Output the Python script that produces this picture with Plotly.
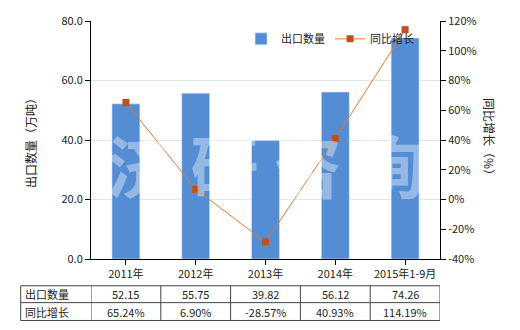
import plotly.graph_objects as go

categories = ["2011年", "2012年", "2013年", "2014年", "2015年1-9月"]
export_qty = [52.15, 55.75, 39.82, 56.12, 74.26]
yoy_growth = [65.24, 6.90, -28.57, 40.93, 114.19]
qty_labels = ["52.15", "55.75", "39.82", "56.12", "74.26"]
growth_labels = ["65.24%", "6.90%", "-28.57%", "40.93%", "114.19%"]
row_names = ["出口数量", "同比增长"]
y2_tickvals = [-40, -20, 0, 20, 40, 60, 80, 100, 120]
y2_ticktext = ["-40%", "-20%", "0%", "20%", "40%", "60%", "80%", "100%", "120%"]
watermark = "济 研 咨 询"

FONT = "Noto Sans CJK SC, Microsoft YaHei, sans-serif"
TXT = "#222222"

fig = go.Figure()
fig.add_trace(go.Bar(
    x=categories, y=export_qty, name="出口数量",
    marker=dict(color="#548dd4"), width=0.4, yaxis="y"))
fig.add_trace(go.Scatter(
    x=categories, y=yoy_growth, name="同比增长", yaxis="y2",
    mode="lines+markers",
    line=dict(color="#e07a30", width=1),
    marker=dict(color="#c0501a", size=7, symbol="square")))

fig.update_layout(
    width=520, height=330,
    margin=dict(l=91, r=80, t=19, b=71),
    paper_bgcolor="white", plot_bgcolor="white",
    font=dict(family=FONT, size=11, color=TXT),
    showlegend=True,
    legend=dict(orientation="h", x=0.43, y=0.925, xanchor="left", yanchor="middle",
                font=dict(size=11, color=TXT), bgcolor="rgba(0,0,0,0)",
                itemwidth=30, traceorder="normal"),
    xaxis=dict(type="category", range=[-0.5, 4.5], showline=True, linecolor="black",
               ticks="outside", ticklen=5, tickcolor="black",
               tickfont=dict(size=11, color=TXT), showgrid=False),
    yaxis=dict(range=[0, 80], dtick=20, tickformat=".1f", showline=True,
               linecolor="black", ticks="outside", ticklen=5, tickcolor="black",
               gridcolor="#dde9e9", zeroline=False,
               tickfont=dict(size=11, color=TXT)),
    yaxis2=dict(range=[-40, 120], tickvals=y2_tickvals, ticktext=y2_ticktext,
                overlaying="y", side="right",
                showline=True, linecolor="black",
                ticks="outside", ticklen=5, tickcolor="black",
                showgrid=False, zeroline=False,
                tickfont=dict(size=11, color=TXT)),
)

# watermark
fig.add_annotation(text="<b>" + watermark + "</b>", xref="paper", yref="paper",
                   x=0.5, y=0.4, xanchor="center", yanchor="middle",
                   showarrow=False, opacity=0.38,
                   font=dict(size=68, color="#ffffff", family="Noto Sans CJK SC"))

# axis titles
fig.add_annotation(text="出口数量（万吨）", xref="paper", yref="paper",
                   x=-0.175, y=0.5, xanchor="center", yanchor="middle",
                   textangle=-90, showarrow=False,
                   font=dict(size=12, color=TXT))
fig.add_annotation(text="同比增长（%）", xref="paper", yref="paper",
                   x=1.143, y=0.5, xanchor="center", yanchor="middle",
                   textangle=90, showarrow=False,
                   font=dict(size=12, color=TXT))

# table below the chart
y_top, y_mid, y_bot = -0.1125, -0.1833, -0.2583
x_left = -0.2014
lc = "#444444"
for yy in (y_top, y_mid, y_bot):
    fig.add_shape(type="line", xref="paper", yref="paper",
                  x0=x_left, x1=1.0, y0=yy, y1=yy, line=dict(color=lc, width=1))
fig.add_shape(type="line", xref="paper", yref="paper",
              x0=x_left, x1=x_left, y0=y_top, y1=y_bot, line=dict(color=lc, width=1))
for i in range(len(categories) + 1):
    fig.add_shape(type="line", xref="x", yref="paper",
                  x0=i - 0.5, x1=i - 0.5, y0=y_top, y1=y_bot,
                  line=dict(color=lc, width=1))

row_y = [(y_top + y_mid) / 2, (y_mid + y_bot) / 2]
for r, name in enumerate(row_names):
    fig.add_annotation(text=name, xref="paper", yref="paper", x=x_left + 0.006,
                       y=row_y[r], xanchor="left", yanchor="middle", showarrow=False,
                       font=dict(size=11, color=TXT))
for i, c in enumerate(categories):
    fig.add_annotation(text=qty_labels[i], xref="x", yref="paper", x=c, y=row_y[0],
                       xanchor="center", yanchor="middle",
                       showarrow=False, font=dict(size=11, color=TXT))
    fig.add_annotation(text=growth_labels[i], xref="x", yref="paper", x=c, y=row_y[1],
                       xanchor="center", yanchor="middle",
                       showarrow=False, font=dict(size=11, color=TXT))

fig.write_html("out.html")
